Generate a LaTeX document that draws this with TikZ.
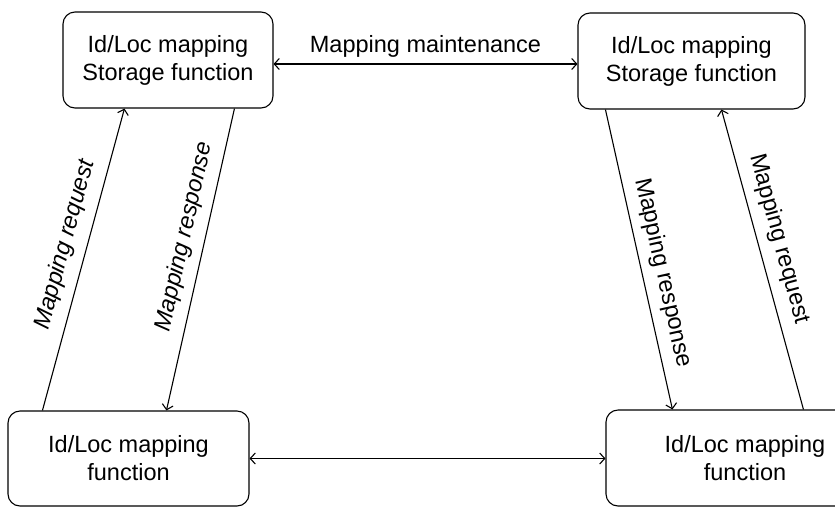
\documentclass[tikz,border=0pt]{standalone}
\usepackage{fontspec}
\setmainfont{Liberation Sans}
\usepackage{tikz}
\usetikzlibrary{arrows.meta}

\begin{document}
\begin{tikzpicture}[x=1pt,y=-1pt,line width=1.1pt,>={Straight Barb[length=5pt,width=11pt]},
  box/.style={draw,rounded corners=12pt,align=center,inner sep=0pt}]
\useasboundingbox (0,0) rectangle (835,507);
\clip (0,0) rectangle (835,507);
\fontsize{23.5}{28}\selectfont
\node[box,minimum width=210pt,minimum height=96pt] (s1) at (168,60) {Id/Loc mapping\\Storage function};
\node[box,minimum width=227pt,minimum height=96pt] (s2) at (691.5,61) {Id/Loc mapping\\Storage function};
\node[box,minimum width=241pt,minimum height=95pt] (m1) at (128.5,458.5) {Id/Loc mapping\\function};
\node[box,minimum width=278pt,minimum height=96pt] (m2) at (745,458) {Id/Loc mapping\\function};

\path[draw,<->] ([yshift=-4pt]s1.east) -- node[above,inner sep=6pt] {Mapping maintenance} ([yshift=-4pt]s1.east -| s2.west);
\path[draw,<->] (m1.east) -- (m1.east -| m2.west);

\path[draw,->] ([xshift=35pt]m1.north west) -- node[sloped,above,pos=0.53,inner sep=10pt] {\itshape Mapping request} ([xshift=62pt]s1.south west);
\path[draw,<-] ([xshift=159pt]m1.north west) -- node[sloped,above,pos=0.56,inner sep=9pt] {\itshape Mapping response} ([xshift=172pt]s1.south west);
\path[draw,->] ([xshift=28pt]s2.south west) -- node[sloped,above,pos=0.56,inner sep=9pt] {Mapping response} ([xshift=67pt]m2.north west);
\path[draw,<-] ([xshift=144pt]s2.south west) -- node[sloped,above,pos=0.45,inner sep=10pt] {Mapping request} ([xshift=198pt]m2.north west);
\end{tikzpicture}
\end{document}
